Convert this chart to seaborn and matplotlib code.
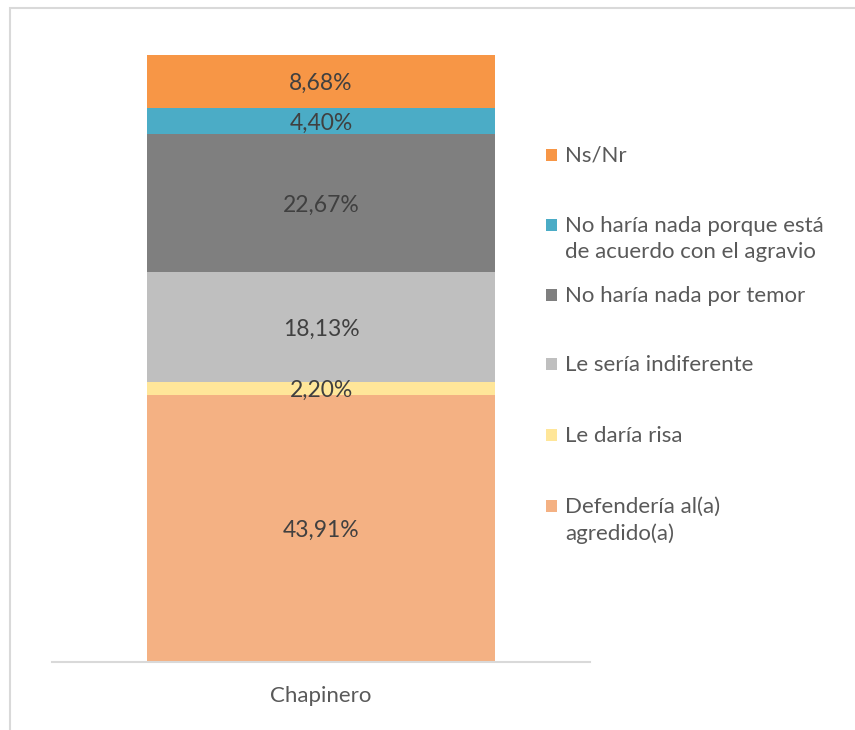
import matplotlib
matplotlib.use("Agg")
import matplotlib.pyplot as plt
import seaborn as sns
import pandas as pd
import numpy as np
from matplotlib.patches import Rectangle

category = ["Chapinero"]
series = ["Defendería al(a)\nagredido(a)", "Le daría risa", "Le sería indiferente",
          "No haría nada por temor",
          "No haría nada porque está\nde acuerdo con el agravio", "Ns/Nr"]
values = [43.91, 2.20, 18.13, 22.67, 4.40, 8.68]
labels = ["43,91%", "2,20%", "18,13%", "22,67%", "4,40%", "8,68%"]
colors = ["#F4B183", "#FFE699", "#BFBFBF", "#7F7F7F", "#4BACC6", "#F79646"]

sns.set_theme(style="white")
plt.rcParams['font.family'] = ['Lato', 'DejaVu Sans']

W, H = 855, 730
fig = plt.figure(figsize=(W / 100, H / 100), dpi=100)
ax = fig.add_axes([52 / W, (H - 662) / H, (590 - 52) / W, (662 - 55) / H])

cum = np.cumsum(values)
for i in reversed(range(len(values))):
    df = pd.DataFrame({"cat": category, "val": [cum[i]]})
    sns.barplot(data=df, x="cat", y="val", color=colors[i], width=0.645,
                saturation=1, ax=ax, linewidth=0)

bottoms = np.concatenate([[0], cum[:-1]])
for b, v, lab in zip(bottoms, values, labels):
    ax.text(0, b + v / 2 - 0.3, lab, ha="center", va="center", fontsize=16.5, color="#404040")

ax.set_xlim(-0.5, 0.5)
ax.set_ylim(0, 100)
ax.set_yticks([])
ax.set_xlabel("")
ax.set_ylabel("")
for s in ["top", "right", "left"]:
    ax.spines[s].set_visible(False)
ax.spines["bottom"].set_color("#D9D9D9")
ax.spines["bottom"].set_linewidth(1.5)
ax.tick_params(axis="x", length=0, labelsize=16, colors="#595959", pad=17)

# legend (manual, top to bottom)
leg_y = [155, 225, 295, 364, 435, 506]
for idx, y in zip(reversed(range(len(series))), leg_y):
    fig.patches.append(Rectangle((546 / W, (H - y - 6) / H), 11 / W, 12 / H,
                                 transform=fig.transFigure, facecolor=colors[idx],
                                 edgecolor="none"))
    fig.text(565 / W, (H - y + 9) / H, series[idx], ha="left", va="top",
             fontsize=16, color="#595959", linespacing=1.38)

# outer frame
fig.patches.append(Rectangle((10 / W, -0.05), 1.1, (H - 8) / H + 0.05,
                             transform=fig.transFigure, facecolor="none",
                             edgecolor="#D9D9D9", linewidth=1.5))

fig.savefig("out.png", dpi=100)
